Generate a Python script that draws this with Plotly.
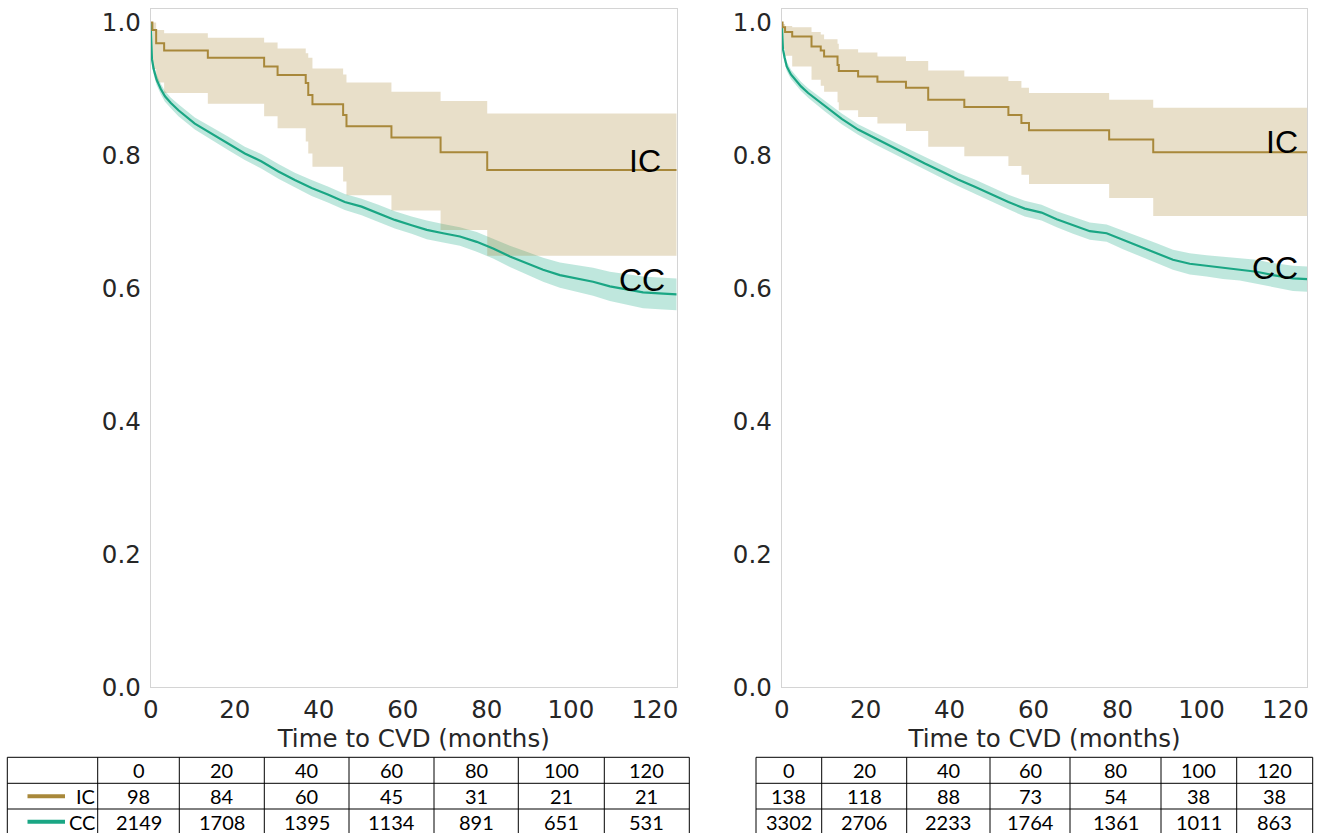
import plotly.graph_objects as go

W, H = 1321, 833

# ---------------- data: left panel ----------------
ic_left_t = [0, 0.4, 1.3, 3.2, 13.6, 27.0, 30.2, 36.9, 37.5, 38.5, 45.8, 46.6, 57.3, 69.0, 80.1, 125.2]
ic_left_s = [1.0, 0.989, 0.969, 0.958, 0.947, 0.934, 0.921, 0.909, 0.891, 0.877, 0.861, 0.844, 0.827, 0.805, 0.778, 0.778]
ic_left_hi = [1.0, 1.0, 0.989, 0.984, 0.977, 0.970, 0.961, 0.954, 0.947, 0.931, 0.922, 0.910, 0.896, 0.882, 0.863, 0.863]
ic_left_lo = [1.0, 0.930, 0.910, 0.894, 0.878, 0.859, 0.841, 0.821, 0.803, 0.783, 0.761, 0.740, 0.717, 0.688, 0.649, 0.649]

cc_left_t = [0, 0.1, 0.3, 0.7, 1.4, 2.4, 3.4, 4.8, 6.6, 10.5, 14.5, 18.5, 22.4, 26.4, 30.4, 34.3, 38.3, 42.3,
             46.2, 50.2, 54.2, 58.1, 62.1, 65.7, 69.6, 73.6, 77.6, 81.5, 85.5, 89.5, 93.4, 97.4, 101.4, 105.3,
             109.3, 113.3, 117.2, 122.0, 125.2]
cc_left_s = [1.0, 0.965, 0.945, 0.930, 0.914, 0.900, 0.889, 0.879, 0.868, 0.848, 0.833, 0.818, 0.803, 0.791,
             0.776, 0.763, 0.751, 0.741, 0.730, 0.723, 0.713, 0.703, 0.695, 0.688, 0.683, 0.678, 0.670, 0.660,
             0.648, 0.638, 0.628, 0.620, 0.615, 0.610, 0.603, 0.598, 0.594, 0.592, 0.591]
cc_left_lo = [1.0, 0.958, 0.938, 0.922, 0.906, 0.892, 0.881, 0.871, 0.859, 0.839, 0.823, 0.808, 0.793, 0.780,
              0.765, 0.752, 0.739, 0.729, 0.718, 0.710, 0.700, 0.690, 0.682, 0.674, 0.669, 0.664, 0.655, 0.645,
              0.632, 0.621, 0.610, 0.601, 0.595, 0.589, 0.581, 0.575, 0.570, 0.568, 0.567]
cc_left_hi = [1.0, 0.972, 0.952, 0.938, 0.922, 0.908, 0.897, 0.887, 0.877, 0.857, 0.843, 0.828, 0.813, 0.802,
              0.787, 0.774, 0.763, 0.753, 0.742, 0.735, 0.726, 0.716, 0.708, 0.702, 0.697, 0.692, 0.685, 0.675,
              0.664, 0.655, 0.646, 0.639, 0.635, 0.631, 0.625, 0.621, 0.618, 0.616, 0.615]

# ---------------- data: right panel ----------------
ic_right_t = [0, 0.2, 0.8, 2.5, 7.1, 9.3, 10.1, 13.3, 13.6, 18.2, 22.8, 29.6, 34.9, 43.5, 54.0, 57.1, 58.9,
              78.0, 88.5, 125.2]
ic_right_s = [1.0, 0.993, 0.986, 0.979, 0.964, 0.958, 0.949, 0.936, 0.927, 0.919, 0.911, 0.902, 0.884, 0.873,
              0.861, 0.849, 0.838, 0.824, 0.805, 0.805]
ic_right_hi = [1.0, 0.998, 0.995, 0.993, 0.986, 0.982, 0.975, 0.968, 0.960, 0.955, 0.949, 0.942, 0.928, 0.919,
               0.912, 0.902, 0.894, 0.884, 0.872, 0.872]
ic_right_lo = [1.0, 0.960, 0.950, 0.934, 0.914, 0.905, 0.896, 0.880, 0.868, 0.858, 0.848, 0.837, 0.813, 0.799,
               0.784, 0.771, 0.757, 0.736, 0.709, 0.709]

cc_right_t = [0, 0.1, 0.3, 0.7, 1.2, 2.2, 3.2, 4.6, 6.3, 10.3, 14.3, 18.2, 22.2, 26.2, 30.1, 34.1, 38.1, 42.0,
              46.0, 50.0, 54.0, 57.9, 61.9, 65.5, 69.4, 73.4, 77.4, 81.3, 85.3, 89.3, 93.2, 97.2, 101.2, 105.1,
              109.1, 113.1, 117.0, 121.8, 125.2]
cc_right_s = [1.0, 0.975, 0.960, 0.947, 0.934, 0.922, 0.914, 0.904, 0.894, 0.874, 0.855, 0.839, 0.826, 0.813,
              0.801, 0.788, 0.776, 0.764, 0.753, 0.741, 0.730, 0.720, 0.714, 0.704, 0.695, 0.686, 0.683, 0.673,
              0.663, 0.653, 0.643, 0.637, 0.634, 0.631, 0.629, 0.625, 0.620, 0.615, 0.614]
cc_right_lo = [1.0, 0.969, 0.953, 0.940, 0.927, 0.915, 0.907, 0.897, 0.887, 0.866, 0.847, 0.831, 0.817, 0.804,
               0.792, 0.778, 0.766, 0.754, 0.742, 0.730, 0.719, 0.708, 0.702, 0.692, 0.682, 0.673, 0.670, 0.659,
               0.649, 0.638, 0.628, 0.621, 0.618, 0.614, 0.612, 0.607, 0.602, 0.596, 0.595]
cc_right_hi = [1.0, 0.981, 0.967, 0.954, 0.941, 0.929, 0.921, 0.911, 0.901, 0.882, 0.863, 0.847, 0.835, 0.822,
               0.810, 0.798, 0.786, 0.774, 0.764, 0.752, 0.741, 0.732, 0.726, 0.716, 0.708, 0.699, 0.696, 0.687,
               0.677, 0.668, 0.658, 0.653, 0.650, 0.648, 0.646, 0.643, 0.638, 0.634, 0.633]

# ---------------- at-risk tables ----------------
table_times = ["0", "20", "40", "60", "80", "100", "120"]
groups = ["IC", "CC"]
left_ic_risk = [98, 84, 60, 45, 31, 21, 21]
left_cc_risk = [2149, 1708, 1395, 1134, 891, 651, 531]
right_ic_risk = [138, 118, 88, 73, 54, 38, 38]
right_cc_risk = [3302, 2706, 2233, 1764, 1361, 1011, 863]

x_ticks = [0, 20, 40, 60, 80, 100, 120]
y_ticks = [0.0, 0.2, 0.4, 0.6, 0.8, 1.0]

IC_COLOR = "#a8883a"
CC_COLOR = "#1aa684"
IC_FILL = "rgba(170,136,57,0.27)"
CC_FILL = "rgba(26,170,133,0.28)"

fig = go.Figure()


def add_band(t, lo, hi, fill, xa, ya, shape):
    fig.add_trace(go.Scatter(x=t, y=lo, mode="lines", line=dict(width=0, shape=shape),
                             xaxis=xa, yaxis=ya, showlegend=False, hoverinfo="skip"))
    fig.add_trace(go.Scatter(x=t, y=hi, mode="lines", line=dict(width=0, shape=shape),
                             fill="tonexty", fillcolor=fill,
                             xaxis=xa, yaxis=ya, showlegend=False, hoverinfo="skip"))


for xa, ya, d in [("x", "y", (cc_left_t, cc_left_s, cc_left_lo, cc_left_hi,
                              ic_left_t, ic_left_s, ic_left_lo, ic_left_hi)),
                  ("x2", "y2", (cc_right_t, cc_right_s, cc_right_lo, cc_right_hi,
                                ic_right_t, ic_right_s, ic_right_lo, ic_right_hi))]:
    ct, cs, clo, chi, it, is_, ilo, ihi = d
    add_band(ct, clo, chi, CC_FILL, xa, ya, "linear")
    add_band(it, ilo, ihi, IC_FILL, xa, ya, "hv")
    fig.add_trace(go.Scatter(x=ct, y=cs, mode="lines", line=dict(color=CC_COLOR, width=2.2),
                             xaxis=xa, yaxis=ya, showlegend=False, name="CC"))
    fig.add_trace(go.Scatter(x=it, y=is_, mode="lines", line=dict(color=IC_COLOR, width=2, shape="hv"),
                             xaxis=xa, yaxis=ya, showlegend=False, name="IC"))

# curve labels
label_font = dict(family="Liberation Sans, Arial", size=32, color="black")
for xr, yr, x, y, txt in [("x", "y", 122.0, 0.791, "IC"), ("x", "y", 123.0, 0.612, "CC"),
                          ("x2", "y2", 123.5, 0.821, "IC"), ("x2", "y2", 123.5, 0.631, "CC")]:
    fig.add_annotation(x=x, y=y, xref=xr, yref=yr, text=txt, showarrow=False,
                       xanchor="right", yanchor="middle", font=label_font)

tick_font = dict(family="DejaVu Sans", size=24.5, color="#262626")
axis_common = dict(showline=True, linecolor="#d4d4d4", linewidth=1, mirror=True, showgrid=False,
                   zeroline=False, ticks="", tickfont=tick_font, automargin=False)

ydom = [(H - 687) / H, (H - 9.3) / H]
fig.update_layout(
    width=W, height=H, margin=dict(l=0, r=0, t=0, b=0, autoexpand=False),
    paper_bgcolor="white", plot_bgcolor="white", showlegend=False,
    xaxis=dict(domain=[150.7 / W, 676.7 / W], range=[0, 125.2], tickvals=x_ticks, anchor="y",
               title=dict(text="Time to CVD (months)", font=tick_font, standoff=4),
               ticklabelstandoff=1, **axis_common),
    xaxis2=dict(domain=[781.7 / W, 1307.3 / W], range=[0, 125.2], tickvals=x_ticks, anchor="y2",
                title=dict(text="Time to CVD (months)", font=tick_font, standoff=4),
                ticklabelstandoff=1, **axis_common),
    yaxis=dict(domain=ydom, range=[0, 1.02], tickvals=y_ticks, tickformat=".1f", anchor="x",
               ticklabelstandoff=4, **axis_common),
    yaxis2=dict(domain=ydom, range=[0, 1.02], tickvals=y_ticks, tickformat=".1f", anchor="x2",
                ticklabelstandoff=4, **axis_common),
)

# ---------------- tables drawn with shapes + text ----------------
def px(x):
    return x / W


def py(y):
    return 1 - y / H


row_y = [757.3, 783.3, 809.0, 834.7]
left_cols = [7.3, 97.7, 179.3, 264.3, 349.0, 434.0, 518.3, 604.3, 689.3]
right_cols = [756.0, 821.7, 906.7, 990.0, 1070.0, 1161.0, 1236.7, 1312.7]
tfont = dict(family="Lato", size=20, color="black")
shapes = []


def grid(cols):
    for yv in row_y:
        shapes.append(dict(type="line", xref="paper", yref="paper", x0=px(cols[0]), x1=px(cols[-1]),
                           y0=py(yv), y1=py(yv), line=dict(color="black", width=1)))
    for xv in cols:
        shapes.append(dict(type="line", xref="paper", yref="paper", x0=px(xv), x1=px(xv),
                           y0=py(row_y[0]), y1=py(row_y[-1]), line=dict(color="black", width=1)))


grid(left_cols)
grid(right_cols)


def cell_texts(cols, rows_vals):
    for r, vals in enumerate(rows_vals):
        yc = (row_y[r] + row_y[r + 1]) / 2
        for c, v in enumerate(vals):
            xc = (cols[c] + cols[c + 1]) / 2
            fig.add_annotation(x=px(xc), y=py(yc), xref="paper", yref="paper", text=str(v),
                               showarrow=False, xanchor="center", yanchor="middle", font=tfont)


cell_texts(left_cols[1:], [table_times, left_ic_risk, left_cc_risk])
cell_texts(right_cols, [table_times, right_ic_risk, right_cc_risk])

# legend column of left table
for r, (g, col) in enumerate(zip(groups, [IC_COLOR, CC_COLOR])):
    yc = (row_y[r + 1] + row_y[r + 2]) / 2
    shapes.append(dict(type="line", xref="paper", yref="paper", x0=px(27.5), x1=px(65.0),
                       y0=py(yc), y1=py(yc), line=dict(color=col, width=4)))
    fig.add_annotation(x=px(96.5), y=py(yc), xref="paper", yref="paper", text=g, showarrow=False,
                       xanchor="right", yanchor="middle", font=tfont)

fig.update_layout(shapes=shapes)

fig.write_html("out.html", config={"displayModeBar": False},
               post_script="document.body.style.margin='0';document.body.style.overflow='hidden';")
